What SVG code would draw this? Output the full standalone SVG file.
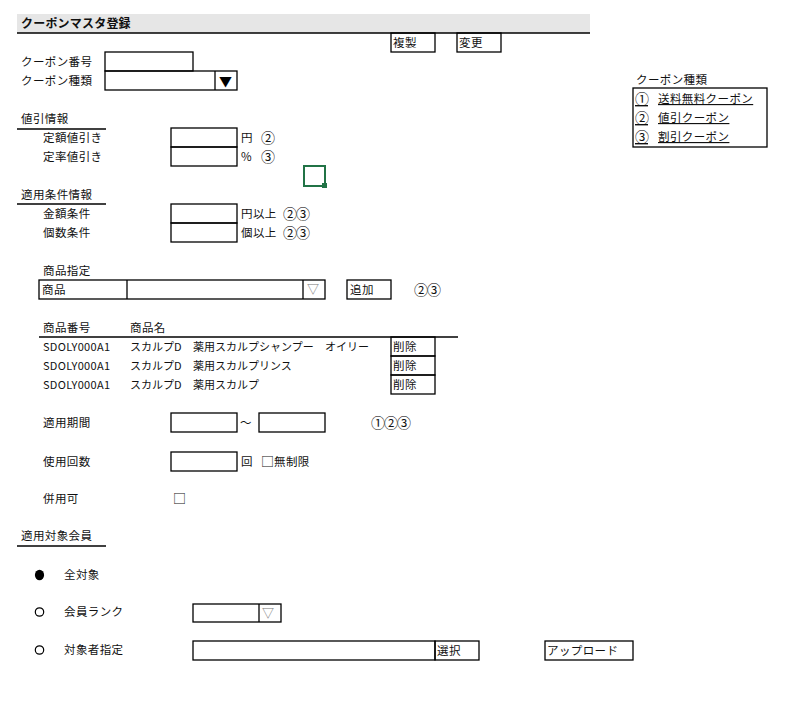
<svg xmlns="http://www.w3.org/2000/svg" width="794" height="703" viewBox="0 0 794 703">
<style>
text{font-family:"Noto Sans CJK JP","Noto Sans",sans-serif;font-size:11.5px;letter-spacing:0.4px;fill:#111}
.b{fill:none;stroke:#000;stroke-width:1.3}
.ul{stroke:#000;stroke-width:1.3}
.h{font-weight:bold;font-size:12px;letter-spacing:0.2px}
.u{text-decoration:underline}
.g{fill:#777;font-size:12px}
.n{font-size:11px;letter-spacing:0}
.c{font-size:14px;letter-spacing:-1px}
.sq{font-size:13px;letter-spacing:0}
</style>
<rect width="794" height="703" fill="#fff"/>
<g id="header">
<rect x="17" y="14" width="573" height="19" fill="#e6e6e6"/>
<line class="ul" x1="17" y1="33" x2="590" y2="33"/>
<text class="h" x="21" y="28">クーポンマスタ登録</text>
</g>
<g id="btn-copy"><rect class="b" x="391" y="33" width="44" height="19"/><text x="393" y="47">複製</text></g>
<g id="btn-change"><rect class="b" x="457" y="33" width="44" height="19"/><text x="459" y="47">変更</text></g>
<g id="coupon-no">
<text x="21" y="66">クーポン番号</text>
<rect class="b" x="105" y="52" width="88" height="19"/>
</g>
<g id="coupon-type">
<text x="21" y="85">クーポン種類</text>
<rect class="b" x="105" y="71" width="132" height="19"/>
<line class="ul" x1="215" y1="71" x2="215" y2="90"/>
<text x="219" y="86" style="font-size:13px;fill:#000;letter-spacing:0">▼</text>
</g>
<g id="legend">
<text x="636" y="84">クーポン種類</text>
<rect class="b" x="633" y="88" width="134" height="59"/>
<text class="u c" x="635" y="104">①</text><text class="u" x="658" y="103">送料無料クーポン</text>
<text class="u c" x="635" y="123">②</text><text class="u" x="658" y="122">値引クーポン</text>
<text class="u c" x="635" y="142">③</text><text class="u" x="658" y="141">割引クーポン</text>
</g>
<g id="discount">
<text x="21" y="123">値引情報</text>
<line class="ul" x1="17" y1="129" x2="106" y2="129"/>
<text x="43" y="142">定額値引き</text>
<rect class="b" x="171" y="128" width="66" height="19"/>
<text x="241" y="142">円</text><text class="c" x="261" y="143">②</text>
<text x="43" y="161">定率値引き</text>
<rect class="b" x="171" y="147" width="66" height="19"/>
<text x="241" y="161">%</text><text class="c" x="261" y="162">③</text>
</g>
<g id="cell-cursor">
<rect x="304" y="166" width="21" height="20" fill="none" stroke="#217346" stroke-width="2"/>
<rect x="322" y="183" width="5" height="5" fill="#217346"/>
</g>
<g id="conditions">
<text x="21" y="199">適用条件情報</text>
<line class="ul" x1="17" y1="204" x2="106" y2="204"/>
<text x="43" y="218">金額条件</text>
<rect class="b" x="171" y="204" width="66" height="19"/>
<text x="241" y="218">円以上</text><text class="c" x="283" y="219">②③</text>
<text x="43" y="237">個数条件</text>
<rect class="b" x="171" y="223" width="66" height="19"/>
<text x="241" y="237">個以上</text><text class="c" x="283" y="238">②③</text>
</g>
<g id="product-select">
<text x="43" y="275">商品指定</text>
<rect class="b" x="39" y="280" width="286" height="19"/>
<line class="ul" x1="127" y1="280" x2="127" y2="299"/>
<line class="ul" x1="303" y1="280" x2="303" y2="299"/>
<text x="42" y="294">商品</text>
<text class="g" x="307" y="294">▽</text>
<rect class="b" x="347" y="280" width="44" height="19"/>
<text x="350" y="294">追加</text>
<text class="c" x="414" y="295">②③</text>
</g>
<g id="product-table">
<text x="43" y="332">商品番号</text>
<text x="130" y="332">商品名</text>
<line class="ul" x1="39" y1="337" x2="458" y2="337"/>
<text class="n" x="43" y="351" textLength="67">SDOLY000A1</text>
<text class="n" x="130" y="351">スカルプD</text>
<text class="n" x="193" y="351">薬用スカルプシャンプー</text>
<text class="n" x="325" y="351">オイリー</text>
<text class="n" x="43" y="370" textLength="67">SDOLY000A1</text>
<text class="n" x="130" y="370">スカルプD</text>
<text class="n" x="193" y="370">薬用スカルプリンス</text>
<text class="n" x="43" y="389" textLength="67">SDOLY000A1</text>
<text class="n" x="130" y="389">スカルプD</text>
<text class="n" x="193" y="389">薬用スカルプ</text>
<rect class="b" x="391" y="337" width="44" height="19"/><text x="393" y="351">削除</text>
<rect class="b" x="391" y="356" width="44" height="19"/><text x="393" y="370">削除</text>
<rect class="b" x="391" y="375" width="44" height="19"/><text x="393" y="389">削除</text>
</g>
<g id="period">
<text x="43" y="427">適用期間</text>
<rect class="b" x="171" y="413" width="66" height="19"/>
<text x="240" y="427">～</text>
<rect class="b" x="259" y="413" width="66" height="19"/>
<text class="c" x="371" y="428">①②③</text>
</g>
<g id="usage">
<text x="43" y="466">使用回数</text>
<rect class="b" x="171" y="452" width="66" height="19"/>
<text x="241" y="466">回</text>
<text x="261" y="466"><tspan class="sq">□</tspan>無制限</text>
</g>
<g id="combine">
<text x="43" y="503">併用可</text>
<text class="sq" x="173" y="503">□</text>
</g>
<g id="members">
<text x="21" y="540">適用対象会員</text>
<line class="ul" x1="17" y1="546" x2="106" y2="546"/>
</g>
<g id="opt-all">
<ellipse cx="39.5" cy="575" rx="4.6" ry="5.2" fill="#000"/>
<text x="64" y="579">全対象</text>
</g>
<g id="opt-rank">
<circle cx="39.5" cy="612" r="4.2" fill="none" stroke="#000" stroke-width="1.2"/>
<text x="64" y="616">会員ランク</text>
<rect class="b" x="193" y="604" width="88" height="18"/>
<line class="ul" x1="259" y1="604" x2="259" y2="622"/>
<text class="g" x="262" y="618">▽</text>
</g>
<g id="opt-target">
<circle cx="39.5" cy="650" r="4.2" fill="none" stroke="#000" stroke-width="1.2"/>
<text x="64" y="654">対象者指定</text>
<rect class="b" x="193" y="641" width="242" height="19"/>
<rect class="b" x="435" y="641" width="44" height="19"/>
<text x="437" y="655">選択</text>
<rect class="b" x="545" y="641" width="88" height="19"/>
<text x="547" y="655">アップロード</text>
</g>
</svg>
